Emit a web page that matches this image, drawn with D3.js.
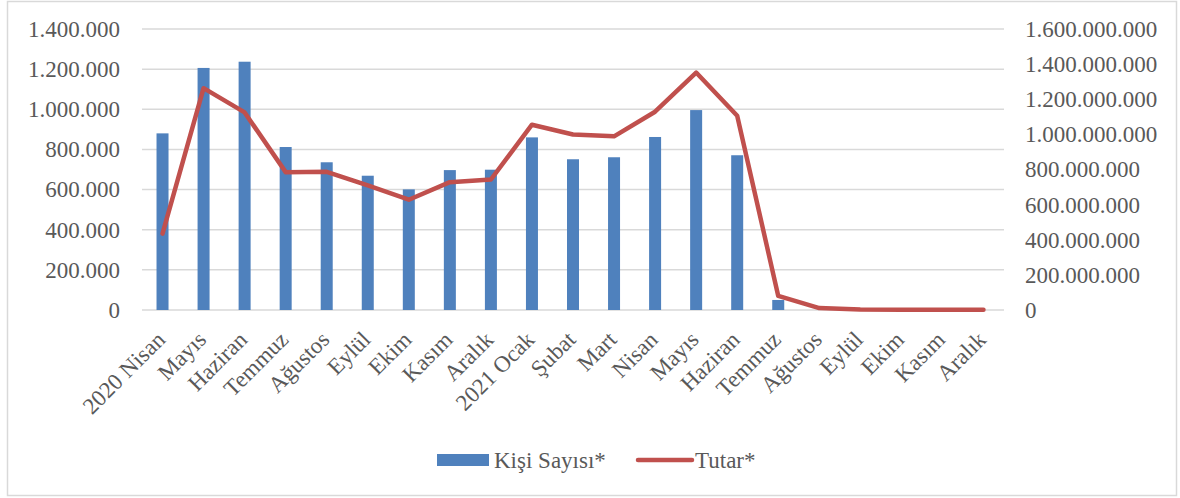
<!DOCTYPE html>
<html><head><meta charset="utf-8">
<script src="https://cdn.jsdelivr.net/npm/d3@7"></script>
<style>
body{margin:0;background:#fff;}
svg{display:block;}
text{font-family:"Liberation Serif","Times New Roman",serif;fill:#595959;}
</style></head>
<body>
<script>
const categories = ["2020 Nisan","Mayıs","Haziran","Temmuz","Ağustos","Eylül","Ekim","Kasım","Aralık","2021 Ocak","Şubat","Mart","Nisan","Mayıs","Haziran","Temmuz","Ağustos","Eylül","Ekim","Kasım","Aralık"];
const kisiSayisi = [880000,1206000,1237000,812000,736000,669000,601000,697000,699000,860000,751000,761000,862000,996000,771000,50000,0,0,0,0,0];
const tutar = [435000000,1263000000,1125000000,785000000,787000000,709000000,628000000,728000000,743000000,1055000000,999000000,989000000,1129000000,1352000000,1106000000,80000000,11000000,3000000,2000000,1000000,1000000];
const leftTicks = [0,200000,400000,600000,800000,1000000,1200000,1400000];
const rightTicks = [0,200000000,400000000,600000000,800000000,1000000000,1200000000,1400000000,1600000000];
const seriesNames = ["Kişi Sayısı*","Tutar*"];

const W=1180,H=498, FS="23px", FF="'Liberation Serif','Times New Roman',serif";
const plot={left:142,right:1004,top:29,bottom:310};
const svg=d3.select("body").append("svg").attr("width",W).attr("height",H);
svg.append("rect").attr("x",7.5).attr("y",1.5).attr("width",1169).attr("height",494)
  .attr("fill","#fff").attr("stroke","#d9d9d9").attr("stroke-width",1.5);

const xc=d3.scalePoint().domain(d3.range(categories.length)).range([plot.left,plot.right]).padding(0.5);
const yL=d3.scaleLinear().domain([0,1400000]).range([plot.bottom,plot.top]);
const yR=d3.scaleLinear().domain([0,1600000000]).range([plot.bottom,plot.top]);
const fmt=v=>d3.format(",")(v).replace(/,/g,".");

// gridlines
svg.append("g").selectAll("line").data(leftTicks).join("line")
  .attr("x1",plot.left).attr("x2",plot.right).attr("y1",d=>yL(d)).attr("y2",d=>yL(d))
  .attr("stroke","#d9d9d9").attr("stroke-width",1.5);

// left axis
const gl=svg.append("g").attr("transform",`translate(${plot.left},0)`)
  .call(d3.axisLeft(yL).tickValues(leftTicks).tickFormat(fmt).tickSize(0).tickPadding(22));
gl.attr("font-family",FF).attr("font-size",FS);
gl.select(".domain").remove();
gl.selectAll("text").attr("font-family",FF).style("font-family",FF).attr("fill","#595959").style("font-size",FS);

// right axis
const gr=svg.append("g").attr("transform",`translate(${plot.right},0)`)
  .call(d3.axisRight(yR).tickValues(rightTicks).tickFormat(fmt).tickSize(0).tickPadding(21));
gr.attr("font-family",FF).attr("font-size",FS);
gr.select(".domain").remove();
gr.selectAll("text").attr("font-family",FF).style("font-family",FF).attr("fill","#595959").style("font-size",FS);

// bars
svg.append("g").selectAll("rect").data(kisiSayisi).join("rect")
  .attr("x",(d,i)=>xc(i)-6).attr("width",12)
  .attr("y",d=>yL(d)).attr("height",d=>plot.bottom-yL(d))
  .attr("fill","#4F81BD");

// line
svg.append("path").datum(tutar)
  .attr("d",d3.line().x((d,i)=>xc(i)).y(d=>yR(d)))
  .attr("fill","none").attr("stroke","#C0504D").attr("stroke-width",4.5)
  .attr("stroke-linejoin","round").attr("stroke-linecap","round");

// x labels
svg.append("g").selectAll("text").data(categories).join("text")
  .attr("transform",(d,i)=>`translate(${xc(i)+4},${341}) rotate(-45)`)
  .attr("text-anchor","end").style("font-size",FS).style("font-family",FF).text(d=>d);

// legend
const lg=svg.append("g");
lg.append("rect").attr("x",437).attr("y",454).attr("width",52).attr("height",12).attr("fill","#4F81BD");
lg.append("text").attr("x",494).attr("y",468).style("font-size",FS).style("font-family",FF).text(seriesNames[0]);
lg.append("line").attr("x1",638).attr("x2",692).attr("y1",460).attr("y2",460)
  .attr("stroke","#C0504D").attr("stroke-width",4.5).attr("stroke-linecap","round");
lg.append("text").attr("x",695).attr("y",468).style("font-size",FS).style("font-family",FF).text(seriesNames[1]);
</script>
</body></html>
